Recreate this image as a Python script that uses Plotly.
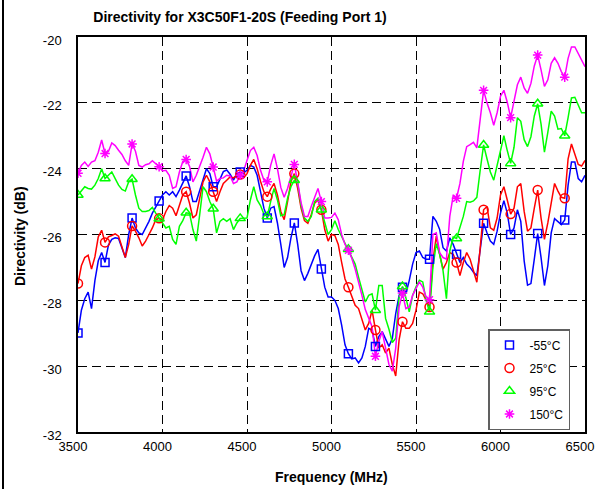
import plotly.graph_objects as go

# Frequency grid (MHz), 20 MHz step
freq = list(range(3500, 6501, 20))

# Directivity (dB) per temperature
d_m55 = [
    -28.99, -28.3, -27.95, -27.75, -28.25, -27.4, -26.8, -26.55, -26.85, -26.32,
    -26.15, -26.1, -26.12, -26.4, -26.7, -26.0, -25.5, -25.8, -25.95, -26.0,
    -25.8, -25.6, -25.35, -25.15, -24.98, -24.8, -24.7, -24.8, -24.7, -24.85,
    -24.65, -24.45, -24.22, -24.55, -25.0, -25.0, -24.65, -24.3, -24.0, -24.15,
    -24.55, -24.55, -24.3, -24.09, -24.04, -24.17, -24.35, -24.15, -24.1, -24.13,
    -24.05, -23.9, -23.95, -24.2, -24.7, -25.2, -25.5, -25.2, -25.15, -25.65,
    -26.3, -27.0, -26.7, -26.1, -25.65, -26.3, -27.1, -27.4, -27.18, -26.9,
    -26.65, -26.45, -27.05, -27.6, -27.9, -27.9, -28.0, -28.25, -28.75, -29.35,
    -29.62, -29.78, -29.75, -29.9, -29.75, -29.4, -28.85, -28.9, -29.4, -29.1,
    -28.95, -29.2, -29.4, -29.15, -28.4, -27.85, -27.6, -27.8, -27.4, -26.9,
    -26.55, -26.5, -26.7, -26.75, -26.75, -25.45, -25.6, -25.85, -26.4, -26.5,
    -26.1, -26.3, -26.6, -26.85, -26.7, -26.9, -27.0, -27.15, -27.25, -26.47,
    -25.66, -25.95, -26.2, -26.3, -25.9, -25.35, -24.97, -25.35, -26.0, -25.8,
    -25.25, -25.6, -26.8, -27.54, -27.49, -26.75, -25.97, -26.7, -27.55, -26.95,
    -25.95, -25.52, -25.62, -25.7, -25.56, -24.5, -23.8, -23.8, -24.3, -24.4,
    -24.2,
]

d_25 = [
    -27.49, -26.95, -26.7, -26.63, -27.05, -26.68, -26.07, -25.87, -26.24, -26.07,
    -26.03, -25.98, -26.05, -26.35, -26.7, -26.3, -25.74, -25.9, -26.1, -26.35,
    -26.2, -26.0, -25.8, -25.55, -25.51, -25.55, -25.3, -25.12, -25.2, -25.43,
    -25.1, -24.8, -24.7, -25.05, -25.5, -25.4, -24.9, -24.4, -24.2, -24.4,
    -24.7, -25.0, -24.7, -24.45, -24.35, -24.25, -24.28, -24.2, -24.18, -24.28,
    -24.15, -23.9, -23.72, -24.0, -24.38, -24.7, -24.85, -24.62, -24.45, -24.8,
    -25.3, -25.55, -25.0, -24.4, -24.15, -24.6, -25.2, -25.58, -25.66, -25.4,
    -25.05, -24.95, -25.25, -25.85, -26.2, -26.0, -26.03, -26.3, -26.85, -27.35,
    -27.6, -27.85, -28.15, -28.25, -28.55, -28.9, -28.7, -28.3, -28.9, -29.45,
    -29.35, -29.6, -29.45, -29.95, -30.3, -29.2, -28.65, -28.85, -28.85, -28.7,
    -28.3, -27.75, -27.8, -28.0, -28.2, -26.8, -26.05, -26.6, -27.05, -26.85,
    -26.55, -26.6, -26.85, -27.25, -26.85, -26.55, -26.75, -27.1, -27.45, -26.4,
    -25.25, -25.15, -25.8, -25.87, -25.5, -24.8, -24.55, -24.95, -25.38, -25.2,
    -24.55, -24.45, -25.3, -25.9, -25.8, -25.2, -24.65, -25.5, -26.15, -25.65,
    -25.0, -24.45, -24.68, -24.87, -24.9, -23.7, -23.25, -23.6, -23.87, -23.92,
    -23.75,
]

d_95 = [
    -24.8, -24.66, -24.55, -24.6, -24.62, -24.5, -24.3, -24.0, -24.3, -24.2,
    -24.1, -24.3, -24.5, -24.63, -24.68, -24.4, -24.32, -24.8, -25.2, -25.3,
    -25.3, -25.27, -25.18, -25.35, -25.52, -25.65, -25.8, -25.75, -26.15, -26.3,
    -25.75, -25.58, -25.34, -25.36, -25.85, -26.2, -25.4, -24.55, -24.7, -25.0,
    -25.22, -25.95, -25.6, -25.52, -25.6, -25.52, -25.85, -25.65, -25.51, -25.51,
    -25.5, -24.95, -24.55, -24.95, -25.12, -25.38, -25.45, -25.0, -24.6, -24.95,
    -25.43, -25.4, -24.9, -24.55, -24.35, -24.45, -25.12, -25.5, -25.6, -25.46,
    -25.0, -24.9, -25.25, -25.65, -26.0, -25.85, -25.58, -25.85, -26.05, -26.25,
    -26.45, -26.66, -26.9, -27.3, -27.7, -28.05, -27.85, -27.8, -28.3, -27.55,
    -27.55, -28.55, -28.88, -29.28, -29.15, -27.9, -27.58, -27.92, -28.35, -27.85,
    -27.59, -27.39, -27.44, -28.0, -28.35, -27.0, -26.28, -26.6, -27.1, -27.95,
    -26.5, -26.08, -26.12, -25.82, -25.45, -25.0, -25.02, -24.98, -24.87, -24.04,
    -23.28, -23.7, -24.1, -24.35, -23.9, -23.5, -23.0, -23.45, -23.84, -23.35,
    -22.45, -22.56, -23.12, -23.33, -23.03, -22.4, -22.03, -22.65, -23.5, -22.9,
    -22.25, -22.4, -22.8, -22.78, -23.0, -22.45, -21.85, -21.83, -22.05, -22.3,
    -22.3,
]

d_150 = [
    -24.14, -23.9, -23.8, -23.93, -23.8, -23.76, -23.5, -23.13, -23.54, -23.48,
    -23.22, -23.3, -23.44, -23.57, -23.76, -23.9, -23.25, -23.47, -23.9, -23.95,
    -23.88, -23.85, -23.76, -23.85, -23.94, -24.07, -24.05, -24.2, -24.6, -24.55,
    -24.1, -23.78, -23.72, -23.93, -24.4, -24.2, -23.95, -23.65, -23.35, -23.55,
    -23.95, -24.38, -24.3, -24.28, -24.2, -24.22, -24.45, -24.4, -24.2, -24.07,
    -23.75, -23.45, -23.35, -23.6, -24.05, -24.35, -24.4, -23.9, -23.55, -24.0,
    -24.57, -24.87, -24.6, -24.2, -23.87, -24.42, -25.03, -25.45, -25.45, -25.15,
    -24.85, -24.6, -25.0, -25.5, -25.5, -25.48, -25.35, -25.55, -26.0, -26.3,
    -26.48, -26.72, -27.05, -27.5, -27.85, -28.28, -28.55, -28.8, -29.7, -29.25,
    -28.95, -29.4, -29.95, -30.15, -29.45, -28.2, -27.78, -28.25, -28.2, -27.85,
    -27.65, -27.44, -27.6, -27.9, -27.98, -26.0, -25.95, -26.55, -26.7, -26.75,
    -25.45, -24.82, -24.9, -24.45, -23.78, -23.33, -23.27, -23.2, -23.37, -22.5,
    -21.62, -22.0, -22.3, -22.68, -22.3, -21.8, -21.62, -21.98, -22.45, -21.95,
    -21.45, -21.22, -21.55, -21.71, -21.41, -20.88, -20.55, -21.0, -21.5, -21.3,
    -20.8, -20.63, -20.8, -21.05, -21.22, -20.65, -20.3, -20.3, -20.5, -20.67,
    -20.9,
]

names = ["-55°C", "25°C", "95°C", "150°C"]
colors = ["#0000FF", "#FF0000", "#00FF00", "#FF00FF"]
symbols = ["square-open", "circle-open", "triangle-up-open", "asterisk-open"]
sizes = [8, 9, 9, 8]
x_ticks = [3500, 4000, 4500, 5000, 5500, 6000, 6500]
y_ticks = [-32, -30, -28, -26, -24, -22, -20]
MARK_STEP = 8  # a marker every 160 MHz

series = [d_m55, d_25, d_95, d_150]
FONT = "Liberation Sans, Arial, Helvetica, sans-serif"

fig = go.Figure()
for vals, col in zip(series, colors):
    fig.add_trace(go.Scatter(x=freq, y=vals, mode="lines",
                             line=dict(color=col, width=1.5),
                             showlegend=False, hoverinfo="skip"))
for i, (vals, col, sym, sz, nm) in enumerate(zip(series, colors, symbols, sizes, names)):
    fig.add_trace(go.Scatter(x=freq[::MARK_STEP], y=vals[::MARK_STEP], mode="markers",
                             name=nm, legendgroup=f"g{i}",
                             marker=dict(symbol=sym, size=sz, color=col,
                                         line=dict(color=col, width=1.5))))

axis_common = dict(showgrid=True, gridcolor="#000000", gridwidth=1, griddash="9px,5px",
                   showline=True, linecolor="#000000", linewidth=1.5, mirror=True,
                   zeroline=False, ticks="", automargin=False,
                   tickfont=dict(family=FONT, size=13, color="#000000"))

fig.update_xaxes(range=[3500, 6500], tickvals=x_ticks, ticktext=[str(v) for v in x_ticks],
                 ticklabelstandoff=2, ticklabelshift=-5, **axis_common)
fig.update_yaxes(range=[-32, -20], tickvals=y_ticks, ticktext=[str(v) for v in y_ticks],
                 ticklabelstandoff=12, ticklabelshift=3, **axis_common)

fig.update_layout(
    width=601, height=489,
    margin=dict(l=78, r=16, t=37, b=57, autoexpand=False),
    paper_bgcolor="white", plot_bgcolor="white",
    font=dict(family=FONT, color="#000000"),
    title=dict(text="<b>Directivity for X3C50F1-20S (Feeding Port 1)</b>",
               font=dict(family=FONT, size=14, color="#000000"),
               xref="container", x=240 / 601, xanchor="center",
               yref="container", y=1 - 17 / 489, yanchor="middle"),
    legend=dict(x=(488 - 78) / 507, xanchor="left", y=(432 - 430) / 395, yanchor="bottom",
                bgcolor="white", bordercolor="#606060", borderwidth=1.5,
                font=dict(family=FONT, size=12, color="#000000"),
                tracegroupgap=4, entrywidth=58, entrywidthmode="pixels"),
    annotations=[
        dict(text="<b>Frequency (MHz)</b>", xref="paper", yref="paper",
             x=0.5, y=(432 - 477) / 395, xanchor="center", yanchor="middle",
             showarrow=False, font=dict(family=FONT, size=14, color="#000000")),
        dict(text="<b>Directivity (dB)</b>", xref="paper", yref="paper",
             x=(20 - 78) / 507, y=(432 - 236) / 395, xanchor="center", yanchor="middle",
             textangle=-90, showarrow=False, font=dict(family=FONT, size=14, color="#000000")),
    ],
    shapes=[dict(type="line", xref="paper", yref="paper",
                 x0=(3 - 78) / 507, x1=(3 - 78) / 507, y0=-57 / 395, y1=1 + 37 / 395,
                 line=dict(color="#000000", width=2))],
)

fig.write_html("out.html", config={"displayModeBar": False})

# remove the browser's default 8px page margin so the figure sits at the window origin
with open("out.html", "r", encoding="utf-8") as fh:
    html = fh.read()
html = html.replace("<body>", '<body style="margin:0;padding:0;">', 1)
html = html.replace("<head>", "<head><style>html,body{margin:0;padding:0;overflow:hidden;}</style>", 1)
with open("out.html", "w", encoding="utf-8") as fh:
    fh.write(html)
